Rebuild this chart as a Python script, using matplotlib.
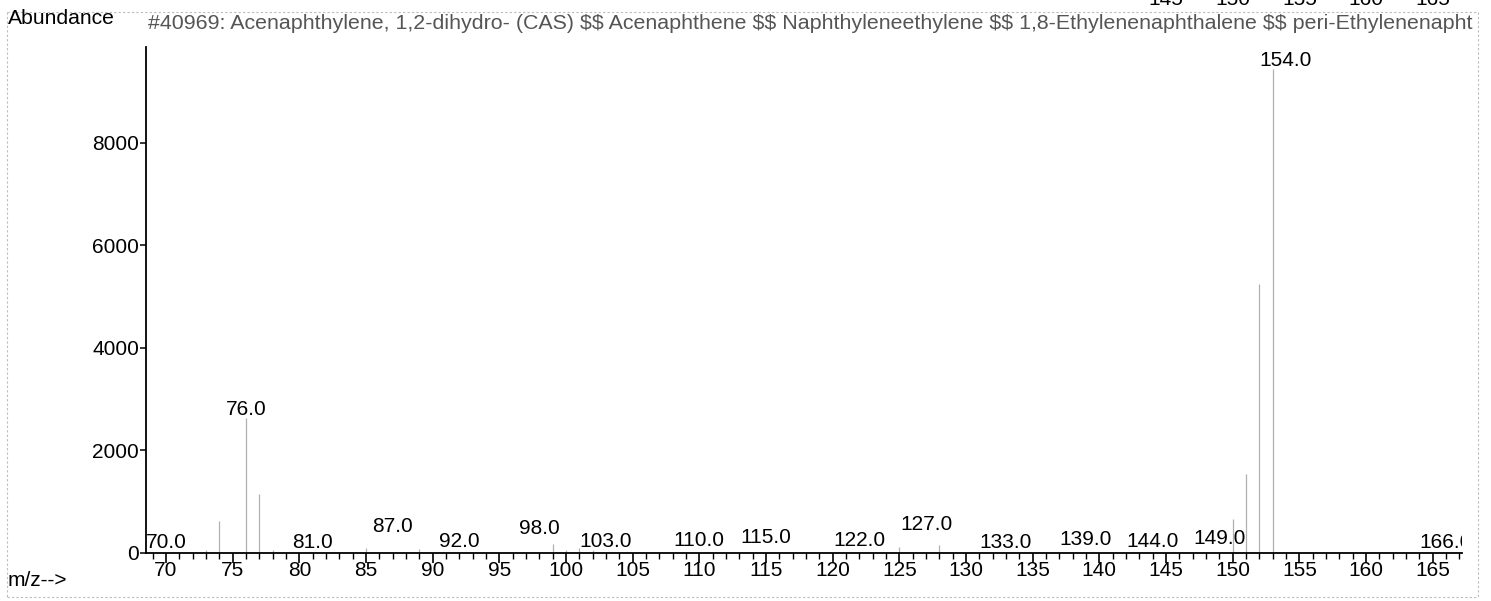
import matplotlib
matplotlib.use("Agg")
import matplotlib.pyplot as plt
from matplotlib.lines import Line2D
from matplotlib.ticker import MultipleLocator
import matplotlib.transforms as mtransforms

plt.rcParams['font.family'] = ['Liberation Sans', 'DejaVu Sans']

# peaks (m/z, abundance)
peak_mz = [73, 74, 76, 77, 78, 85, 89, 99, 100, 101, 102, 125, 128, 150, 151, 152, 153]
peak_ab = [60, 620, 2630, 1150, 50, 90, 70, 175, 60, 100, 60, 115, 155, 670, 1550, 5250, 9450]

# peak labels and the height they sit at
label_mz = [70, 76, 81, 87, 92, 98, 103, 110, 115, 122, 127, 133, 139, 144, 149, 154, 166]
label_ab = [100, 2700, 100, 410, 120, 370, 120, 135, 195, 135, 450, 100, 155, 115, 175, 9500, 100]

y_ticks = [0, 2000, 4000, 6000, 8000]
x_ticks = list(range(70, 170, 5))
top_cut_ticks = [145, 150, 155, 160, 165]

title = ("#40969: Acenaphthylene, 1,2-dihydro- (CAS) $$ Acenaphthene $$ "
         "Naphthyleneethylene $$ 1,8-Ethylenenaphthalene $$ peri-Ethylenenapht")

W, H = 1491, 601
fig = plt.figure(figsize=(W / 100, H / 100), dpi=100)
ax = fig.add_axes([146 / W, 48 / H, 1316 / W, 506 / H])

ax.vlines(peak_mz, 0, peak_ab, color='#b0b0b0', lw=0.9)
for mz, ab in zip(label_mz, label_ab):
    ax.text(mz, ab, f"{mz:.1f}", ha='center', va='baseline', fontsize=15,
            clip_on=True)

ax.set_xlim(68.5, 167.2)
ax.set_ylim(0, 9870)
ax.set_xticks(x_ticks)
ax.xaxis.set_minor_locator(MultipleLocator(1))
ax.set_yticks(y_ticks)
for s in ['top', 'right']:
    ax.spines[s].set_visible(False)
for s in ['left', 'bottom']:
    ax.spines[s].set_linewidth(1.3)
ax.tick_params(axis='x', which='major', length=7.5, width=1.2, pad=-1.5, labelsize=15)
ax.tick_params(axis='x', which='minor', length=4.3, width=1.0)
ax.tick_params(axis='y', which='major', length=4, width=1.1, pad=1, labelsize=15)

fig.text(8 / W, 1 - 24 / H, "Abundance", fontsize=15.2, ha='left', va='baseline')
fig.text(148 / W, 1 - 29 / H, title, fontsize=15.4, color='#555555', ha='left',
         va='baseline', parse_math=False)
fig.text(8 / W, 1 - 586 / H, "m/z-->", fontsize=15, ha='left', va='baseline')

# numbers cut off at the top edge of the scan
tr = mtransforms.blended_transform_factory(ax.transData, fig.transFigure)
for t in top_cut_ticks:
    fig.text(t, 1 - 5 / H, str(t), transform=tr, fontsize=15, ha='center', va='baseline')

# faint dotted frame of the scanned page
frame = dict(color='#bbbbbb', lw=0.8, linestyle=(0, (2, 2)), transform=fig.transFigure)
fig.add_artist(Line2D([7 / W, 1478 / W], [1 - 12 / H, 1 - 12 / H], **frame))
fig.add_artist(Line2D([7 / W, 1478 / W], [1 - 597 / H, 1 - 597 / H], **frame))
fig.add_artist(Line2D([1478 / W, 1478 / W], [1 - 12 / H, 1 - 597 / H], **frame))
fig.add_artist(Line2D([7 / W, 7 / W], [1 - 12 / H, 1 - 597 / H], **frame))

fig.savefig("out.png", dpi=100)
